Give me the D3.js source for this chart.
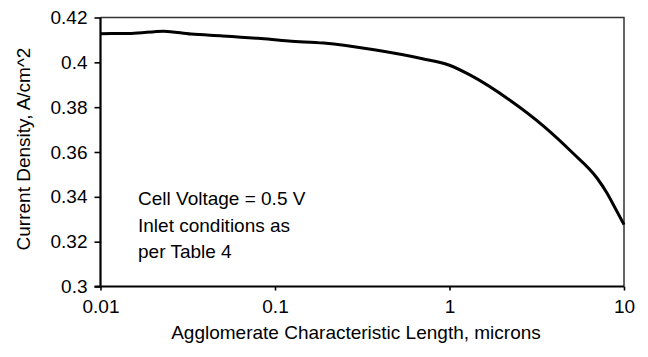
<!DOCTYPE html>
<html>
<head>
<meta charset="utf-8">
<script src="https://cdn.jsdelivr.net/npm/d3@7"></script>
<style>
  body { margin: 0; background: #fff; }
  text { font-family: "Liberation Sans", Arial, sans-serif; fill: #000; }
</style>
</head>
<body>
<svg id="chart" width="648" height="357"></svg>
<script>
// agglomerate characteristic length (microns)
const lengths = [0.01, 0.015, 0.023, 0.033, 0.05, 0.08, 0.12, 0.19, 0.37, 0.7, 1.0, 1.3, 2.2, 3.5, 5.0, 7.0, 8.0, 8.8, 10];
// current density (A/cm^2)
const density = [0.4128, 0.4129, 0.4139, 0.4126, 0.4118, 0.4107, 0.4095, 0.4086, 0.4056, 0.4016, 0.3987, 0.3945, 0.3833, 0.3712, 0.3601, 0.3484, 0.3416, 0.3357, 0.3276];
const xTicks = [0.01, 0.1, 1, 10];
const yTicks = [0.3, 0.32, 0.34, 0.36, 0.38, 0.4, 0.42];
const notes = ["Cell Voltage = 0.5 V", "Inlet conditions as", "per Table 4"];

const svg = d3.select('#chart');
const plotL = 100.5, plotR = 624, plotT = 17.5, plotB = 286.5;

const x = d3.scaleLog().domain([0.01, 10]).range([plotL, plotR]);
const y = d3.scaleLinear().domain([0.3, 0.42]).range([plotB, plotT]);

// top / right border
svg.append('path')
    .attr('d', `M${plotL},${plotT}H${plotR}V${plotB}`)
    .attr('fill', 'none')
    .attr('stroke', '#333')
    .attr('stroke-width', 1.5);

const fmt = d => String(d);

const yAxis = svg.append('g')
    .attr('transform', `translate(${plotL},0)`)
    .call(d3.axisLeft(y).tickValues(yTicks).tickFormat(fmt).tickSize(6).tickPadding(7));
const xAxis = svg.append('g')
    .attr('transform', `translate(0,${plotB})`)
    .call(d3.axisBottom(x).tickValues(xTicks).tickFormat(fmt).tickSize(4).tickPadding(9));

[yAxis, xAxis].forEach(g => {
    g.select('.domain').attr('stroke', '#000').attr('stroke-width', 2.2);
    g.selectAll('.tick line').attr('stroke', '#000').attr('stroke-width', 1.6);
    g.selectAll('.tick text').style('font-size', '19px').attr('fill', '#000');
});
yAxis.select('.domain').attr('d', `M-6,${plotB}H0V${plotT}`);
xAxis.select('.domain').attr('d', `M${plotL},0H${plotR}`);

// curve
const pts = lengths.map((d, i) => [d, density[i]]);
svg.append('path')
    .datum(pts)
    .attr('fill', 'none')
    .attr('stroke', '#000')
    .attr('stroke-width', 3)
    .attr('stroke-linejoin', 'round')
    .attr('d', d3.line().x(d => x(d[0])).y(d => y(d[1])).curve(d3.curveMonotoneX));

// annotation
svg.append('g').selectAll('text')
    .data(notes)
    .join('text')
    .attr('x', 138)
    .attr('y', (d, i) => 205 + i * 26.5)
    .style('font-size', '19px')
    .text(d => d);

// axis titles
svg.append('text')
    .attr('x', 356)
    .attr('y', 339)
    .attr('text-anchor', 'middle')
    .style('font-size', '19px')
    .text('Agglomerate Characteristic Length, microns');

svg.append('text')
    .attr('transform', 'translate(30,149) rotate(-90)')
    .attr('text-anchor', 'middle')
    .style('font-size', '19px')
    .text('Current Density, A/cm^2');
</script>
</body>
</html>
